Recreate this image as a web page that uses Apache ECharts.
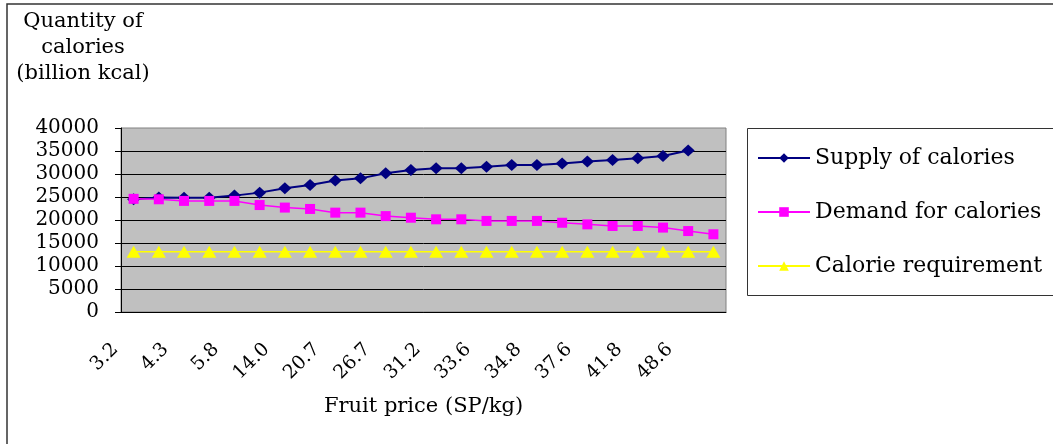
<!DOCTYPE html>
<html>
<head>
<meta charset="utf-8">
<script src="https://cdn.jsdelivr.net/npm/echarts@6/dist/echarts.min.js"></script>
<style>
  html, body { margin: 0; padding: 0; background: #fff; }
  #chart { width: 1053px; height: 444px; }
</style>
</head>
<body>
<div id="chart"></div>
<script>
// fruit price categories (only every other one is labelled in the picture)
const prices = ['3.2', '3.8', '4.3', '5.0', '5.8', '9.5', '14.0', '17.5', '20.7', '23.8', '26.7', '29.0',
  '31.2', '32.4', '33.6', '34.2', '34.8', '36.2', '37.6', '39.7', '41.8', '45.2', '48.6', '52.0'];

// billion kcal
const supply = [24500, 24900, 24850, 24850, 25300, 25950, 26900, 27600, 28600, 29050, 30150, 30850,
  31250, 31250, 31600, 31950, 31950, 32300, 32700, 33050, 33400, 33900, 35100, null];
const demand = [24600, 24500, 24150, 24150, 24150, 23250, 22700, 22400, 21600, 21600, 20850, 20500,
  20150, 20150, 19800, 19800, 19800, 19400, 19050, 18700, 18700, 18350, 17600, 16900];
const requirement = [13100, 13100, 13100, 13100, 13100, 13100, 13100, 13100, 13100, 13100, 13100, 13100,
  13100, 13100, 13100, 13100, 13100, 13100, 13100, 13100, 13100, 13100, 13100, 13100];

const FONT = 'DejaVu Serif';

const chart = echarts.init(document.getElementById('chart'));

const option = {
  animation: false,
  textStyle: { fontFamily: FONT, color: '#000' },
  graphic: [
    {
      type: 'rect',
      shape: { x: 7, y: 4, width: 1200, height: 600 },
      style: { fill: 'none', stroke: '#333', lineWidth: 1.5 },
      silent: true,
    },
    {
      type: 'rect',
      shape: { x: 747.5, y: 128.5, width: 400, height: 167 },
      style: { fill: 'none', stroke: '#333', lineWidth: 1 },
      silent: true,
    },
    {
      type: 'text',
      x: 83,
      y: 9,
      style: {
        text: 'Quantity of\ncalories\n(billion kcal)',
        fontFamily: FONT,
        fontSize: 21,
        lineHeight: 26,
        align: 'center',
        fill: '#000',
      },
    },
  ],
  legend: {
    orient: 'vertical',
    left: 757,
    top: 147,
    padding: 0,
    itemWidth: 52,
    itemHeight: 12,
    itemGap: 32,
    textStyle: { fontFamily: FONT, fontSize: 22, color: '#000' },
    data: ['Supply of calories', 'Demand for calories', 'Calorie requirement'],
  },
  grid: {
    left: 121,
    right: 327,
    top: 128,
    bottom: 132,
    show: true,
    backgroundColor: '#C0C0C0',
    borderColor: '#808080',
    borderWidth: 1,
  },
  xAxis: {
    type: 'category',
    data: prices,
    boundaryGap: true,
    name: 'Fruit price (SP/kg)',
    nameLocation: 'middle',
    nameGap: 84,
    nameTextStyle: { fontFamily: FONT, fontSize: 21, color: '#000' },
    axisLine: { lineStyle: { color: '#000', width: 1 } },
    axisTick: { interval: 0, length: 6, lineStyle: { color: '#000' } },
    axisLabel: {
      interval: 1,
      rotate: 45,
      margin: 16,
      padding: [0, 26, 0, 0],
      fontFamily: FONT,
      fontSize: 19,
      color: '#000',
    },
    splitLine: { show: false },
  },
  yAxis: {
    type: 'value',
    min: 0,
    max: 40000,
    interval: 5000,
    axisLine: { show: true, lineStyle: { color: '#000', width: 1 } },
    axisTick: { show: true, length: 6, lineStyle: { color: '#000' } },
    axisLabel: {
      margin: 22,
      fontFamily: FONT,
      fontSize: 20,
      color: '#000',
      formatter: (v) => String(v),
    },
    splitLine: { showMaxLine: false, lineStyle: { color: '#000', width: 1 } },
  },
  series: [
    {
      name: 'Supply of calories',
      type: 'line',
      data: supply,
      symbol: 'diamond',
      symbolSize: [13, 12],
      color: '#000080',
      lineStyle: { color: '#000080', width: 2 },
      itemStyle: { color: '#000080' },
      z: 3,
    },
    {
      name: 'Demand for calories',
      type: 'line',
      data: demand,
      symbol: 'rect',
      symbolSize: 10,
      color: '#FF00FF',
      lineStyle: { color: '#FF00FF', width: 1.5 },
      itemStyle: { color: '#FF00FF' },
      z: 4,
    },
    {
      name: 'Calorie requirement',
      type: 'line',
      data: requirement,
      symbol: 'triangle',
      symbolSize: [14, 12],
      color: '#FFFF00',
      lineStyle: { color: '#FFFF00', width: 1.5 },
      itemStyle: { color: '#FFFF00' },
      z: 2,
    },
  ],
};

chart.setOption(option);
</script>
</body>
</html>
